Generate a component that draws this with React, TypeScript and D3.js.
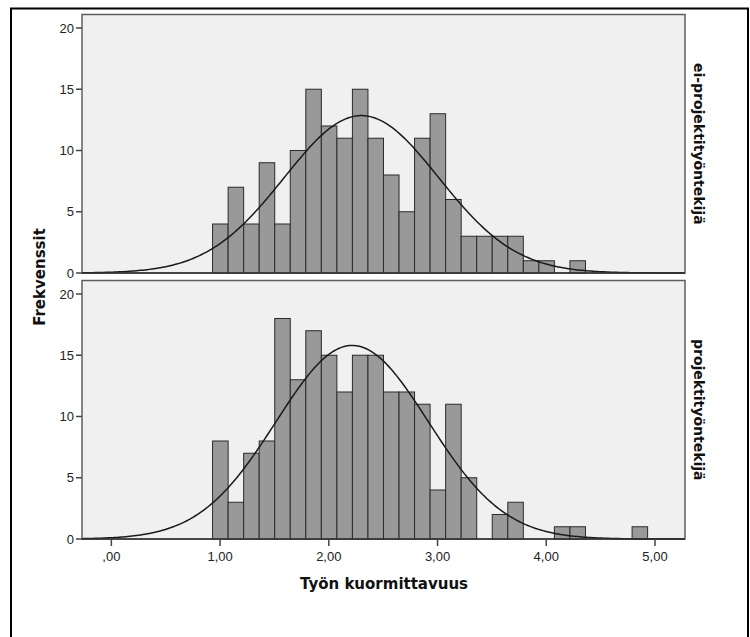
import React from 'react';
import * as d3 from 'd3';

// histogram counts per bin
const binStart = 0.931;
const binWidth = 0.1429;
const countsNonProject = [4, 7, 4, 9, 4, 10, 15, 12, 11, 15, 11, 8, 5, 11, 13, 6, 3, 3, 3, 3, 1, 1, 0, 1];
const countsProject = [8, 3, 7, 8, 18, 13, 17, 15, 12, 15, 15, 12, 12, 11, 4, 11, 5, 0, 2, 3, 0, 0, 1, 1, 0, 0, 0, 1];

// fitted normal curve parameters
const normalNonProject = { mean: 2.3, sd: 0.71 };
const normalProject = { mean: 2.215, sd: 0.7 };

const panelLabels = ['ei-projektityöntekijä', 'projektityöntekijä'];
const yTicks = [0, 5, 10, 15, 20];
const xTicks = [0, 1, 2, 3, 4, 5];
const xTickLabels = [',00', '1,00', '2,00', '3,00', '4,00', '5,00'];

const W = 750;
const H = 637;
const left = 82;
const right = 685;
const panelH = 258.5;
const panelTops = [14.5, 280.5];
const font = '"Liberation Sans", Arial, sans-serif';
const titleFont = '"DejaVu Sans", Verdana, sans-serif';

const x = d3.scaleLinear().domain([-0.27, 5.276]).range([left, right]);

const Panel = ({ counts, normal, label, top, showX }) => {
  const y = d3.scaleLinear().domain([0, 21.1]).range([top + panelH, top]);
  const n = d3.sum(counts);
  const curveX = d3.range(-0.27, 5.2761, 0.02);
  const pdf = (v) =>
    (n * binWidth) / (normal.sd * Math.sqrt(2 * Math.PI)) *
    Math.exp(-0.5 * ((v - normal.mean) / normal.sd) ** 2);
  const line = d3.line<number>().x((v) => x(v)).y((v) => y(pdf(v)));
  const bottom = top + panelH;

  return (
    <g>
      <rect x={left} y={top} width={right - left} height={panelH} fill="#f0f0f0" stroke="#5e5e5e" strokeWidth={1.5} />
      {counts.map((c, i) =>
        c > 0 ? (
          <rect
            key={i}
            x={x(binStart + i * binWidth)}
            y={y(c)}
            width={x(binStart + (i + 1) * binWidth) - x(binStart + i * binWidth)}
            height={bottom - y(c)}
            fill="#999999"
            stroke="#2b2b2b"
            strokeWidth={1}
          />
        ) : null
      )}
      <path d={line(curveX) || ''} fill="none" stroke="#1a1a1a" strokeWidth={1.5} />
      <line x1={left} x2={right} y1={bottom} y2={bottom} stroke="#333" strokeWidth={1.5} />
      {yTicks.map((t) => (
        <g key={t}>
          <line x1={left - 6} x2={left} y1={y(t)} y2={y(t)} stroke="#444" strokeWidth={1.5} />
          <text x={left - 8} y={y(t)} dy="0.35em" textAnchor="end" fontSize={13} fill="#222" fontFamily={font}>
            {t}
          </text>
        </g>
      ))}
      <text
        transform={`translate(${right + 9},${top + panelH / 2}) rotate(90)`}
        textAnchor="middle"
        fontSize={14}
        fontWeight="bold"
        fill="#111"
        fontFamily={titleFont}
      >
        {label}
      </text>
      {showX &&
        xTicks.map((t, i) => (
          <g key={t}>
            <line x1={x(t)} x2={x(t)} y1={bottom} y2={bottom + 7} stroke="#444" strokeWidth={1.5} />
            <text x={x(t)} y={bottom + 22} textAnchor="middle" fontSize={13} fill="#222" fontFamily={font}>
              {xTickLabels[i]}
            </text>
          </g>
        ))}
    </g>
  );
};

export default function App() {
  return (
    <div style={{ position: 'absolute', left: 0, top: 0 }}>
      <svg width={W} height={H} style={{ display: 'block', background: '#fff' }}>
        <rect x={11} y={8.5} width={737} height={650} fill="none" stroke="#000" strokeWidth={2} />
        <Panel counts={countsNonProject} normal={normalNonProject} label={panelLabels[0]} top={panelTops[0]} showX={false} />
        <Panel counts={countsProject} normal={normalProject} label={panelLabels[1]} top={panelTops[1]} showX={true} />
        <text
          transform={`translate(45,277) rotate(-90)`}
          textAnchor="middle"
          fontSize={15}
          fontWeight="bold"
          fill="#111"
          fontFamily={titleFont}
        >
          Frekvenssit
        </text>
        <text x={384} y={589} textAnchor="middle" fontSize={15} fontWeight="bold" fill="#111" fontFamily={titleFont}>
          Työn kuormittavuus
        </text>
      </svg>
    </div>
  );
}
